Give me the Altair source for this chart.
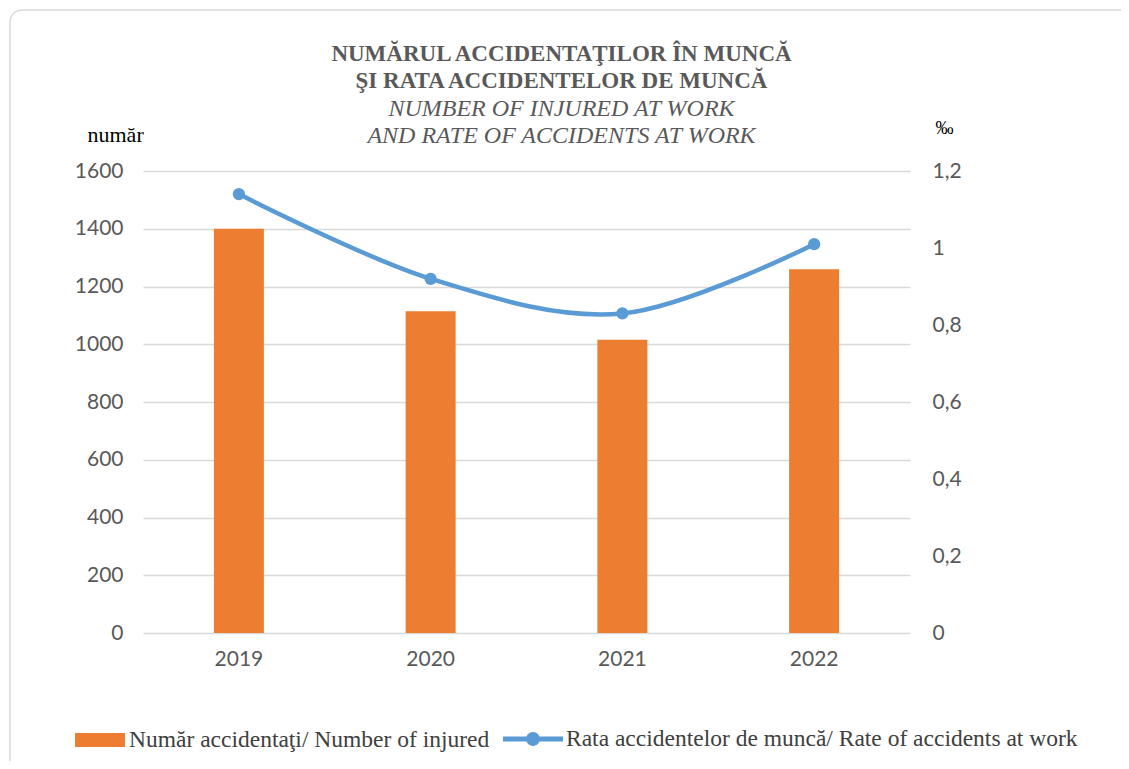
import altair as alt
import pandas as pd

years = ["2019", "2020", "2021", "2022"]
injured = [1400, 1114, 1016, 1260]
rate = [1.14, 0.92, 0.83, 1.01]

bar_label = "Număr accidentaţi/ Number of injured"
line_label = "Rata accidentelor de muncă/ Rate of accidents at work"

df = pd.DataFrame({
    "year": years,
    "injured": injured,
    "rate": rate,
    "s_bar": [bar_label] * 4,
    "s_line": [line_label] * 4,
})

ORANGE = "#ED7D31"
BLUE = "#5B9BD5"
LABEL_FONT = "Lato"
SERIF = "Liberation Serif"

x = alt.X("year:N", title=None,
          scale=alt.Scale(paddingInner=0, paddingOuter=0),
          axis=alt.Axis(labelAngle=0, ticks=False, domain=False,
                        labelPadding=15, labelFont=LABEL_FONT,
                        labelFontSize=21, labelColor="#595959"))

frame = alt.Chart(pd.DataFrame({"a": [0]})).mark_rect(
    fillOpacity=0, stroke="#D9D9D9", strokeWidth=1.5, cornerRadius=12
).encode(x=alt.value(-133), x2=alt.value(1000),
         y=alt.value(-161), y2=alt.value(640))

bars = alt.Chart(df).mark_bar(size=50).encode(
    x=x,
    y=alt.Y("injured:Q", title="număr",
            scale=alt.Scale(domain=[0, 1600]),
            axis=alt.Axis(values=[0, 200, 400, 600, 800, 1000, 1200, 1400, 1600],
                          format="d",
                          ticks=False, domain=False, grid=True,
                          gridColor="#D9D9D9", gridWidth=1.5,
                          labelPadding=20, labelFont=LABEL_FONT,
                          labelFontSize=21, labelColor="#595959",
                          titleAngle=0, titleX=-56, titleY=-30,
                          titleAlign="left", titleBaseline="alphabetic",
                          titleFont=SERIF, titleFontSize=22,
                          titleFontWeight="normal", titleColor="#000000")),
    color=alt.Color("s_bar:N", scale=alt.Scale(range=[ORANGE]),
                    legend=alt.Legend(title=None, orient="none",
                                      legendX=-68, legendY=544,
                                      symbolType="M-1,-0.28H1V0.28H-1Z",
                                      symbolSize=2500, symbolStrokeWidth=0,
                                      labelFont=SERIF, labelFontSize=23.5,
                                      labelLimit=0,
                                      labelColor="#404040", labelOffset=4)),
)

line = alt.Chart(df).mark_line(
    strokeWidth=4.5, interpolate="cardinal",
    point=alt.OverlayMarkDef(size=150, filled=True, fill=BLUE, strokeWidth=0, opacity=1),
).encode(
    x=x,
    y=alt.Y("rate:Q", title="‰",
            scale=alt.Scale(domain=[0, 1.2]),
            axis=alt.Axis(orient="right",
                          values=[0, 0.2, 0.4, 0.6, 0.8, 1, 1.2],
                          labelExpr="replace(format(datum.value, '~g'), '.', ',')",
                          ticks=False, domain=False, grid=False,
                          labelPadding=22, labelFont=LABEL_FONT,
                          labelFontSize=21, labelColor="#595959",
                          titleAngle=0, titleX=25, titleY=-38,
                          titleAlign="left", titleBaseline="alphabetic",
                          titleFont=SERIF, titleFontSize=18,
                          titleFontWeight="normal", titleColor="#000000")),
    stroke=alt.Stroke("s_line:N", scale=alt.Scale(range=[BLUE]),
                      legend=alt.Legend(title=None, orient="none",
                                        legendX=360, legendY=538,
                                        symbolType="M-1,-0.08H1V0.08H-1Z M0.23,0A0.23,0.23,0,1,1,-0.23,0A0.23,0.23,0,1,1,0.23,0Z",
                                        symbolSize=3600, symbolStrokeWidth=0,
                                        symbolFillColor=BLUE,
                                        labelFont=SERIF, labelFontSize=23.5,
                                        labelLimit=0,
                                        labelColor="#404040", labelOffset=3)),
)

chart = alt.layer(frame, bars, line).resolve_scale(
    y="independent", color="independent", stroke="independent"
).properties(
    width=767, height=462,
    autosize=alt.AutoSizeParams(type="none"),
    padding={"left": 135, "top": 163, "right": 211, "bottom": 128},
    title=alt.TitleParams(
        text=["NUMĂRUL  ACCIDENTAŢILOR ÎN MUNCĂ", "ŞI RATA ACCIDENTELOR DE MUNCĂ"],
        subtitle=["NUMBER OF INJURED AT WORK", "AND RATE OF ACCIDENTS AT WORK"],
        font=SERIF, fontSize=23, fontWeight="bold", color="#595959",
        lineHeight=27,
        subtitleFont=SERIF, subtitleFontSize=24, subtitleFontStyle="italic",
        subtitleFontWeight="normal", subtitleColor="#595959",
        subtitleLineHeight=27, subtitlePadding=4,
        anchor="middle", frame="group", dx=35, offset=-139,
    ),
).configure_view(stroke=None)

chart.save("out.html", embed_options={"renderer": "svg", "actions": False})
